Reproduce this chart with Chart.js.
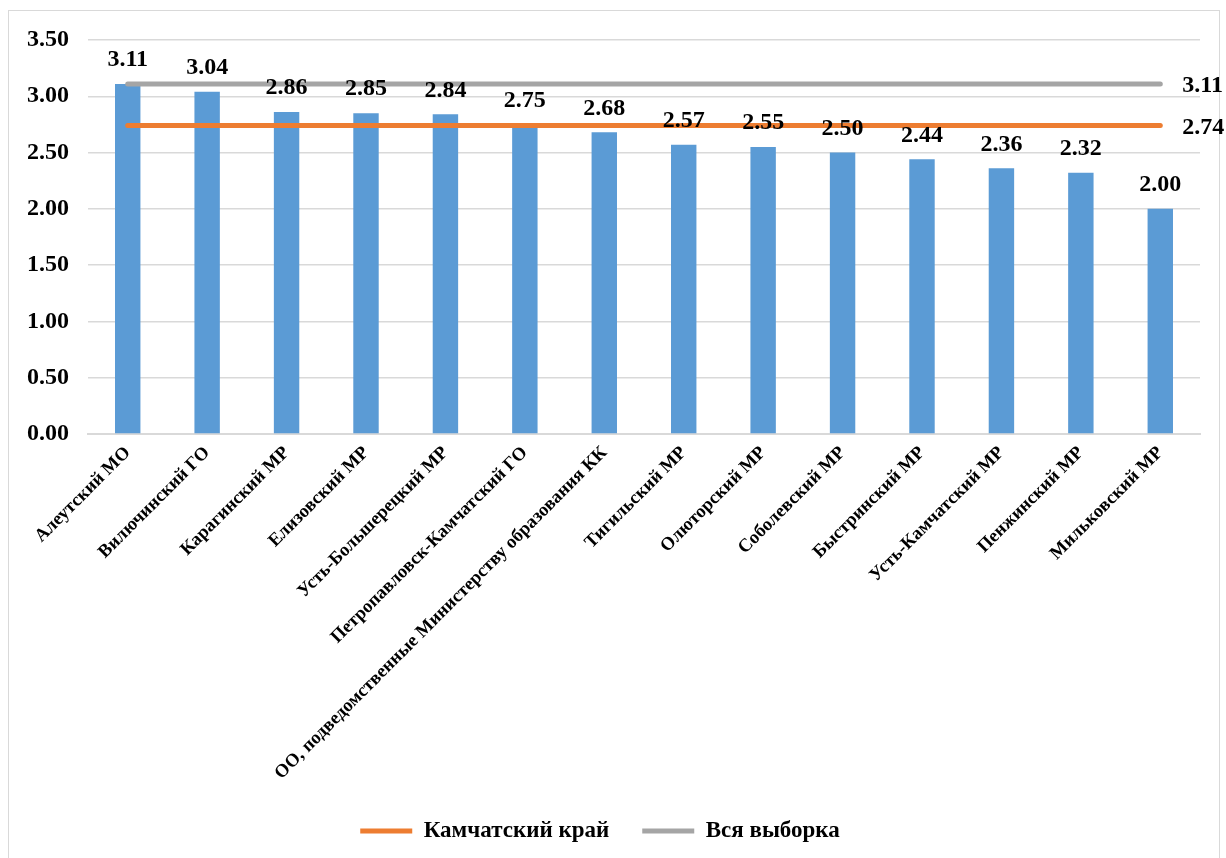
<!DOCTYPE html>
<html>
<head>
<meta charset="utf-8">
<script src="https://cdn.jsdelivr.net/npm/chart.js@4.4.0/dist/chart.umd.min.js"></script>
<style>
  html, body { margin: 0; padding: 0; background: #fff; }
  #frame { position: absolute; left: 8px; top: 10px; width: 1210px; height: 860px; border: 1px solid #d9d9d9; }
  #wrap { position: absolute; left: 0; top: 0; width: 1226px; height: 858px; }
</style>
</head>
<body>
<div id="frame"></div>
<div id="wrap"><canvas id="c" width="1226" height="858"></canvas></div>
<script>
// values
const categories = [
  'Алеутский МО', 'Вилючинский ГО', 'Карагинский МР', 'Елизовский МР',
  'Усть-Большерецкий МР', 'Петропавловск-Камчатский ГО',
  'ОО, подведомственные Министерству образования КК',
  'Тигильский МР', 'Олюторский МР', 'Соболевский МР', 'Быстринский МР',
  'Усть-Камчатский МР', 'Пенжинский МР', 'Мильковский МР'
];
const barValues = [3.11, 3.04, 2.86, 2.85, 2.84, 2.75, 2.68, 2.57, 2.55, 2.50, 2.44, 2.36, 2.32, 2.00];
const regionValue = 2.74;   // Камчатский край
const sampleValue = 3.11;   // Вся выборка
const yTicks = [0, 0.5, 1, 1.5, 2, 2.5, 3, 3.5];

const FONT = "'Liberation Serif', 'Times New Roman', serif";

// bar value labels + right-hand labels for the two reference lines
const valueLabels = {
  id: 'valueLabels',
  afterDatasetsDraw(chart) {
    const ctx = chart.ctx;
    ctx.save();
    ctx.fillStyle = '#000';
    ctx.font = 'bold 24px ' + FONT;
    ctx.textAlign = 'center';
    ctx.textBaseline = 'middle';
    const barMeta = chart.getDatasetMeta(0);
    barMeta.data.forEach((bar, i) => {
      ctx.fillText(barValues[i].toFixed(2), bar.x, bar.y - 24);
    });
    ctx.textAlign = 'left';
    [1, 2].forEach(di => {
      const meta = chart.getDatasetMeta(di);
      const last = meta.data[meta.data.length - 1];
      const v = chart.data.datasets[di].data[meta.data.length - 1];
      ctx.fillText(v.toFixed(2), last.x + 22, last.y + 2);
    });
    ctx.restore();
  }
};

new Chart(document.getElementById('c'), {
  data: {
    labels: categories,
    datasets: [
      {
        type: 'bar',
        label: 'Баллы',
        data: barValues,
        backgroundColor: '#5b9bd5',
        barPercentage: 0.32,
        categoryPercentage: 1,
        order: 3
      },
      {
        type: 'line',
        label: 'Камчатский край',
        data: categories.map(() => regionValue),
        borderColor: '#ed7d31',
        borderWidth: 5,
        borderCapStyle: 'round',
        pointRadius: 0,
        pointStyle: 'line',
        pointBorderColor: '#ed7d31',
        pointBorderWidth: 5,
        order: 1
      },
      {
        type: 'line',
        label: 'Вся выборка',
        data: categories.map(() => sampleValue),
        borderColor: '#a5a5a5',
        borderWidth: 5,
        borderCapStyle: 'round',
        pointRadius: 0,
        pointStyle: 'line',
        pointBorderColor: '#a5a5a5',
        pointBorderWidth: 5,
        order: 2
      }
    ]
  },
  options: {
    animation: false,
    responsive: false,
    layout: { padding: { top: 40, right: 26, bottom: 5.5, left: 0 } },
    plugins: {
      tooltip: { enabled: false },
      legend: {
        position: 'bottom',
        labels: {
          filter: item => item.datasetIndex > 0,
          usePointStyle: true,
          pointStyleWidth: 52,
          boxHeight: 5,
          color: '#000',
          padding: 33,
          font: { family: FONT, size: 23, weight: 'bold' }
        }
      }
    },
    scales: {
      x: {
        grid: { display: false, drawTicks: false },
        border: { color: '#d9d9d9', width: 2 },
        ticks: {
          color: '#000',
          font: { family: FONT, size: 18.5, weight: 'bold' },
          maxRotation: 45,
          minRotation: 45,
          autoSkip: false,
          padding: 8
        },
        afterFit: s => { s.height = 352.5; }
      },
      y: {
        min: 0,
        max: 3.5,
        afterBuildTicks: s => { s.ticks = yTicks.map(v => ({ value: v })); },
        grid: { color: '#d9d9d9', lineWidth: 1.5, drawTicks: false },
        border: { display: false },
        ticks: {
          color: '#000',
          padding: 19,
          font: { family: FONT, size: 24, weight: 'bold' },
          callback: v => Number(v).toFixed(2)
        },
        afterFit: s => { s.width = 88; }
      }
    }
  },
  plugins: [valueLabels]
});
</script>
</body>
</html>
